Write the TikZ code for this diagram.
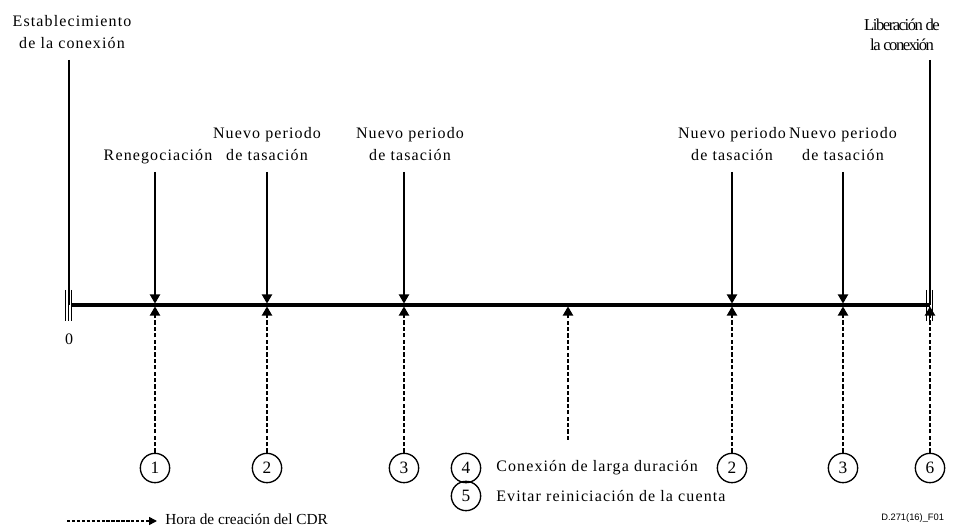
\documentclass[tikz,border=0pt]{standalone}
\usepackage{fontspec}
\setmainfont{Liberation Serif}
\newfontfamily\condfont[LetterSpace=-9]{Liberation Serif}
\newfontfamily\codefont{Liberation Sans}
\usetikzlibrary{arrows.meta}
\begin{document}
\begin{tikzpicture}[x=0.75pt,y=-0.75pt,
  lbl/.style={font=\fontsize{12}{17}\selectfont\addfontfeatures{LetterSpace=7}, align=center, inner sep=0pt},
  plainlbl/.style={font=\fontsize{11.5}{14}\selectfont, inner sep=0pt},
  condlbl/.style={font=\fontsize{12.5}{15}\selectfont\condfont, align=center, inner sep=0pt},
  num/.style={circle, draw, line width=1pt, minimum size=22pt, inner sep=0pt, font=\fontsize{13}{14}\selectfont},
  axis/.style={line width=3.5pt},
  endline/.style={line width=1.4pt},
  tick/.style={line width=1pt},
  event/.style={line width=2pt, -{Triangle[length=7pt,width=7.5pt]}, shorten >=1pt},
  cdr/.style={line width=2.2pt, dash pattern=on 3.2pt off 1.6pt, -{Triangle[length=7pt,width=7.5pt]}, shorten >=1pt},
  legend/.style={line width=1.2pt, dash pattern=on 2.5pt off 1.2pt, -{Triangle[length=6pt,width=6pt]}}
]
\useasboundingbox (0,0) rectangle (957,530);

% timeline points
\coordinate (t0) at (69,305);
\coordinate (t1) at (155,305);
\coordinate (t2) at (267,305);
\coordinate (t3) at (404,305);
\coordinate (t4) at (568,305);
\coordinate (t5) at (732,305);
\coordinate (t6) at (843,305);
\coordinate (t7) at (930,305);

% main axis
\draw[axis] (72,305) -- (t7);

% ends
\coordinate (e0) at (69,60);
\coordinate (e7) at (930,60);
\draw[endline] (e0) -- (t0);
\draw[endline] (e7) -- (t7);
\foreach \xx in {65.5,68.5,71.5} \draw[tick] (\xx,290) -- (\xx,321);
\foreach \xx in {926.5,929.5,932.5} \draw[tick] (\xx,290) -- (\xx,321);

% labels on top
\node[lbl] (lstart) at (72,32) {Establecimiento\\de la conexión};
\node[condlbl] (lend) at (902,35) {Liberación de\\la conexión};
\node[lbl] (lren) at (158,157) {Renegociación};
\node[lbl] (lnp1) at (267,144) {Nuevo periodo\\de tasación};
\node[lbl] (lnp2) at (410,144) {Nuevo periodo\\de tasación};
\node[lbl] (lnp3) at (732,144) {Nuevo periodo\\de tasación};
\node[lbl] (lnp4) at (843,144) {Nuevo periodo\\de tasación};
\node[lbl] (zero) at (69,339) {0};

% event arrows
\coordinate (a1) at (155,172);
\coordinate (a2) at (267,172);
\coordinate (a3) at (404,172);
\coordinate (a5) at (732,172);
\coordinate (a6) at (843,172);
\draw[event] (a1) -- (t1);
\draw[event] (a2) -- (t2);
\draw[event] (a3) -- (t3);
\draw[event] (a5) -- (t5);
\draw[event] (a6) -- (t6);

% circles
\node[num] (c1) at (155,468) {1};
\node[num] (c2) at (267,468) {2};
\node[num] (c3) at (404,468) {3};
\node[num] (c4) at (466,468) {4};
\node[num] (c5) at (466,496) {5};
\node[num] (c2b) at (732,468) {2};
\node[num] (c3b) at (843,468) {3};
\node[num] (c6) at (930,468) {6};
\node[lbl, anchor=west] (txt4) at (496,468) {Conexión de larga duración};
\node[lbl, anchor=west] (txt5) at (496,496) {Evitar reiniciación de la cuenta};

% CDR arrows
\coordinate (s4) at (568,440);
\draw[cdr] (c1) -- (t1);
\draw[cdr] (c2) -- (t2);
\draw[cdr] (c3) -- (t3);
\draw[cdr] (s4) -- (t4);
\draw[cdr] (c2b) -- (t5);
\draw[cdr] (c3b) -- (t6);
\draw[cdr] (c6) -- (t7);

% legend
\coordinate (g0) at (67,521);
\coordinate (g1) at (157,521);
\draw[legend] (g0) -- (g1);
\node[plainlbl, anchor=west] (gtxt) at (165,519) {Hora de creación del CDR};
\node[anchor=west, inner sep=0pt, font=\fontsize{7}{8}\selectfont\codefont] (code) at (881,518) {D.271(16)\_F01};
\end{tikzpicture}
\end{document}
